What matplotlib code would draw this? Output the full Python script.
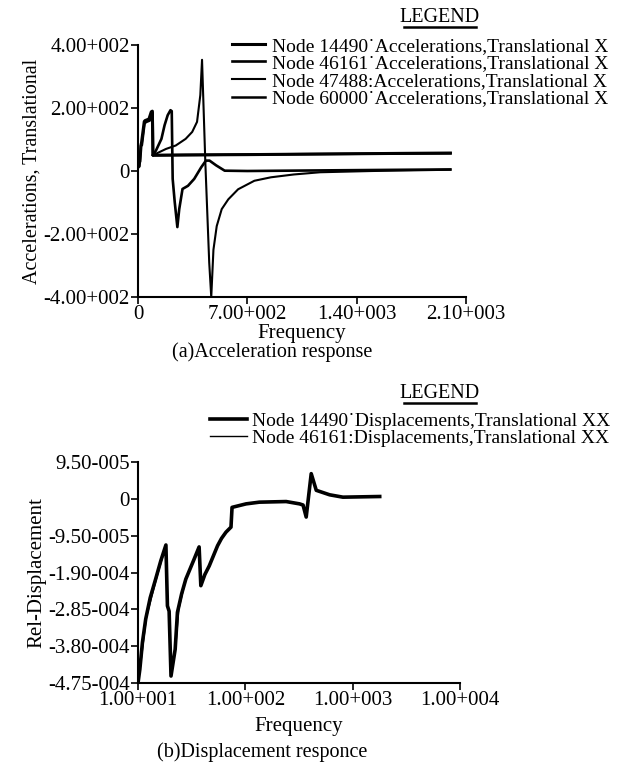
import matplotlib
matplotlib.use("Agg")
import matplotlib.pyplot as plt
from matplotlib.lines import Line2D
from matplotlib.ticker import NullLocator

plt.rcParams["font.family"] = ["Liberation Serif", "DejaVu Serif"]
plt.rcParams["font.size"] = 14

# ---- (a) acceleration response, four nodes ----
acc_labels = ["Node 14490\u02d9Accelerations,Translational X",
              "Node 46161\u02d9Accelerations,Translational X",
              "Node 47488:Accelerations,Translational X",
              "Node 60000\u02d9Accelerations,Translational X"]

f_14490 = [0, 12, 20, 22, 40, 45, 70, 85, 92, 95, 100, 300, 700, 1200, 1700, 2000]
a_14490 = [20, 30, 85, 88, 157, 160, 165, 188, 190, 52, 50, 51, 52, 54, 56, 57]

f_46161 = [95, 115, 150, 170, 190, 208, 216, 222, 235, 252, 264, 285, 320,
           360, 405, 435, 458, 500, 555, 700, 1200, 2000]
a_46161 = [50, 65, 102, 145, 177, 193, 190, -25, -98, -178, -121, -57, -47,
           -25, 12, 33, 33, 18, 1, 0, 2, 5]

f_47488 = [95, 179, 242, 305, 347, 378, 399, 410, 431, 456, 469, 483, 504,
           536, 578, 641, 745, 851, 998, 1166, 1500, 2000]
a_47488 = [50, 70, 81, 102, 124, 156, 241, 353, 28, -291, -400, -250, -175,
           -121, -90, -58, -31, -20, -11, -4, 0, 4]

f_60000 = [0, 10, 18, 25, 42, 50, 75, 88, 94, 97, 100, 400, 900, 1500, 2000]
a_60000 = [10, 15, 80, 82, 150, 155, 160, 180, 185, 50, 50, 51, 53, 55, 56]

acc_xticks = [0, 700, 1400, 2100]
acc_xticklabels = ["0", "7.00+002", "1.40+003", "2.10+003"]
acc_yticks = [-400, -200, 0, 200, 400]
acc_yticklabels = ["-4.00+002", "-2.00+002", "0", "2.00+002", "4.00+002"]

# ---- (b) displacement response, two nodes ----
disp_labels = ["Node 14490\u02d9Displacements,Translational XX",
               "Node 46161:Displacements,Translational XX"]

f_d14490 = [10, 10.4, 11, 11.8, 13, 14.6, 16.3, 18.2, 18.8, 19.5, 20.3, 22.2,
            23.3, 25.5, 27.9, 33.4, 37.1, 38.5, 42, 46.1, 55.1, 60, 66, 73.5,
            75.2, 101.6, 135, 240, 320, 345, 369, 411, 458, 610, 811, 1786]
d_14490 = [-4.75e-4, -4.40e-4, -3.70e-4, -3.10e-4, -2.55e-4, -2.07e-4,
           -1.60e-4, -1.19e-4, -2.76e-4, -2.90e-4, -4.57e-4, -3.88e-4,
           -2.93e-4, -2.45e-4, -2.07e-4, -1.55e-4, -1.24e-4, -2.24e-4,
           -1.95e-4, -1.73e-4, -1.21e-4, -1.02e-4, -8.6e-5, -7.3e-5, -2.2e-5,
           -1.3e-5, -8.6e-6, -7e-6, -1.3e-5, -1.6e-5, -4.7e-5, 6.5e-5, 2.2e-5,
           1.04e-5, 4.3e-6, 6e-6]

f_d46161 = [10, 10.5, 12, 15, 18.2, 18.8, 19.6, 20.3, 22.5, 24, 28, 33.5,
            37.1, 38.5, 46, 55, 66, 73.5, 75.2, 102, 135, 240, 320, 345, 369,
            411, 458, 610, 811, 1786]
d_46161 = [-4.72e-4, -4.35e-4, -3.05e-4, -2.02e-4, -1.20e-4, -2.75e-4,
           -2.95e-4, -4.55e-4, -3.80e-4, -2.85e-4, -2.05e-4, -1.55e-4,
           -1.25e-4, -2.22e-4, -1.72e-4, -1.20e-4, -8.6e-5, -7.2e-5, -2.2e-5,
           -1.3e-5, -8.5e-6, -7e-6, -1.3e-5, -1.6e-5, -4.6e-5, 6.4e-5, 2.2e-5,
           1.0e-5, 4.5e-6, 6e-6]

disp_xticks = [10, 100, 1000, 10000]
disp_xticklabels = ["1.00+001", "1.00+002", "1.00+003", "1.00+004"]
disp_yticks = [-4.75e-4, -3.80e-4, -2.85e-4, -1.90e-4, -9.5e-5, 0, 9.5e-5]
disp_yticklabels = ["-4.75-004", "-3.80-004", "-2.85-004", "-1.90-004",
                    "-9.50-005", "0", "9.50-005"]

W, H = 619, 767
fig = plt.figure(figsize=(W / 100, H / 100), dpi=100)


def px(x0, y0, x1, y1):
    # pixel box (left, top, right, bottom) -> figure fraction rect
    return [x0 / W, 1 - y1 / H, (x1 - x0) / W, (y1 - y0) / H]


def style(ax):
    for s in ("top", "right"):
        ax.spines[s].set_visible(False)
    for s in ("left", "bottom"):
        ax.spines[s].set_linewidth(1.5)
    ax.tick_params(direction="out", length=5, width=1.2, labelsize=15, pad=1)


def legend_title(xc, yc):
    fig.text(xc / W, 1 - yc / H, "LEGEND", ha="center", va="center", fontsize=14.5)
    fig.add_artist(Line2D([(xc - 36) / W, (xc + 36) / W],
                          [1 - (yc + 10) / H] * 2, color="black", lw=1.8))


axA = fig.add_axes(px(138, 45, 466, 297))
axA.plot(f_14490, a_14490, color="black", lw=2.2)
axA.plot(f_60000, a_60000, color="black", lw=1.8)
axA.plot(f_46161, a_46161, color="black", lw=1.9)
axA.plot(f_47488, a_47488, color="black", lw=1.5)
axA.set_xlim(0, 2100)
axA.set_ylim(-400, 400)
axA.set_xticks(acc_xticks)
axA.set_xticklabels(acc_xticklabels)
axA.set_yticks(acc_yticks)
axA.set_yticklabels(acc_yticklabels)
axA.set_xlabel("Frequency", fontsize=15, labelpad=0)
axA.set_ylabel("Accelerations, Translational", fontsize=14.5, labelpad=1)
style(axA)

axB = fig.add_axes(px(138, 462, 460, 683))
axB.semilogx(f_d46161, d_46161, color="black", lw=1.0)
axB.semilogx(f_d14490, d_14490, color="black", lw=2.6)
axB.set_xlim(10, 10000)
axB.set_ylim(-4.75e-4, 9.5e-5)
axB.set_xticks(disp_xticks)
axB.set_xticklabels(disp_xticklabels)
axB.xaxis.set_minor_locator(NullLocator())
axB.set_yticks(disp_yticks)
axB.set_yticklabels(disp_yticklabels)
axB.set_xlabel("Frequency", fontsize=15, labelpad=5)
axB.set_ylabel("Rel-Displacement", fontsize=15, labelpad=1)
style(axB)

# legends drawn at figure level, in the style of the FE post-processor
la = axA.get_lines()
fig.legend([la[0], la[2], la[3], la[1]], acc_labels, loc="upper left",
           bbox_to_anchor=(232 / W, 1 - 37 / H), frameon=False,
           handlelength=1.7, handletextpad=0.35, labelspacing=0.0,
           borderpad=0, borderaxespad=0, fontsize=14)
legend_title(440, 17)

lb = axB.get_lines()
fig.legend([lb[1], lb[0]], disp_labels, loc="upper left",
           bbox_to_anchor=(210 / W, 1 - 412 / H), frameon=False,
           handlelength=1.9, handletextpad=0.25, labelspacing=0.0,
           borderpad=0, borderaxespad=0, fontsize=14)
legend_title(440, 393)

fig.text(272 / W, 1 - 352 / H, "(a)Acceleration response",
         ha="center", va="center", fontsize=14.5)
fig.text(262 / W, 1 - 752 / H, "(b)Displacement responce",
         ha="center", va="center", fontsize=14.5)

fig.savefig("out.png", dpi=100)
